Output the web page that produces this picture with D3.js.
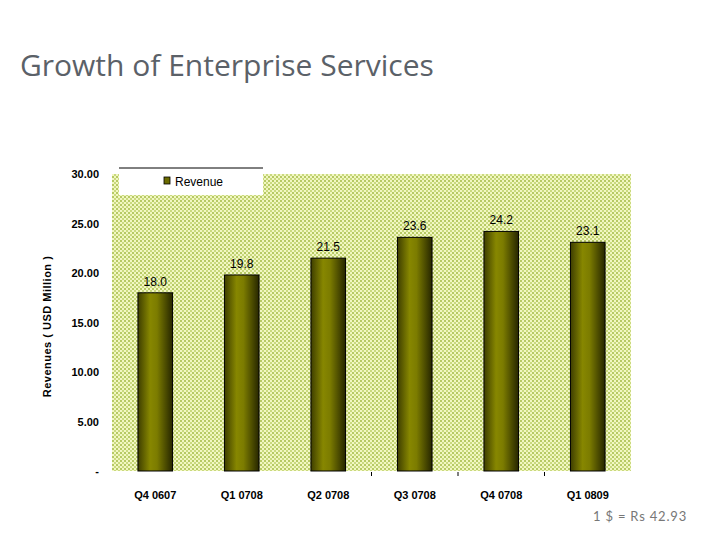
<!DOCTYPE html>
<html>
<head>
<meta charset="utf-8">
<script src="https://cdn.jsdelivr.net/npm/d3@7"></script>
<style>
  body { margin: 0; background: #fff; }
  svg { display: block; }
</style>
</head>
<body>
<div class="chart"></div>
<script>
// quarterly revenue, USD million
var quarters = ["Q4 0607", "Q1 0708", "Q2 0708", "Q3 0708", "Q4 0708", "Q1 0809"];
var revenue = [18.0, 19.8, 21.5, 23.6, 24.2, 23.1];
var yTicks = [0, 5, 10, 15, 20, 25, 30];
var seriesName = "Revenue";

var width = 720, height = 540;
var plotLeft = 112, plotRight = 631, plotTop = 174, plotBottom = 471;

var svg = d3.select(".chart").append("svg")
    .attr("width", width)
    .attr("height", height);

/* patterned plot background + bar gradient */
var defs = svg.append("defs");
var pat = defs.append("pattern")
    .attr("id", "bgpat")
    .attr("width", 4).attr("height", 4)
    .attr("patternUnits", "userSpaceOnUse");
pat.append("rect").attr("width", 4).attr("height", 4).attr("fill", "#f2f7c2");
pat.append("rect").attr("x", 0).attr("y", 0).attr("width", 2).attr("height", 2).attr("fill", "#b6c964");
pat.append("rect").attr("x", 2).attr("y", 2).attr("width", 2).attr("height", 2).attr("fill", "#c9d97e");

var grad = defs.append("linearGradient")
    .attr("id", "bargrad")
    .attr("x1", "0%").attr("x2", "100%").attr("y1", "0%").attr("y2", "0%");
grad.append("stop").attr("offset", "0%").attr("stop-color", "#3e3e00");
grad.append("stop").attr("offset", "35%").attr("stop-color", "#878700");
grad.append("stop").attr("offset", "55%").attr("stop-color", "#7c7c00");
grad.append("stop").attr("offset", "100%").attr("stop-color", "#262600");

var x = d3.scaleBand()
    .domain(quarters)
    .range([plotLeft, plotRight])
    .paddingInner(0.6)
    .paddingOuter(0.3);

var y = d3.scaleLinear()
    .domain([0, 30])
    .range([plotBottom, plotTop]);

svg.append("rect")
    .attr("x", plotLeft).attr("y", plotTop)
    .attr("width", plotRight - plotLeft).attr("height", plotBottom - plotTop)
    .attr("fill", "url(#bgpat)");

/* y axis labels, no line */
var yAxis = d3.axisLeft(y)
    .tickValues(yTicks)
    .tickSize(0)
    .tickPadding(0)
    .tickFormat(function(d) { return d === 0 ? "-" : d.toFixed(2); });

svg.append("g")
    .attr("transform", "translate(99,0)")
    .call(yAxis)
    .call(function(g) { g.select(".domain").remove(); })
    .selectAll("text")
      .attr("font-family", "Liberation Sans, Arial, sans-serif")
      .attr("font-size", 11)
      .attr("font-weight", "bold")
      .attr("fill", "#000");

/* x axis labels */
var xAxis = d3.axisBottom(x).tickSize(0).tickPadding(0);
svg.append("g")
    .attr("transform", "translate(0," + (plotBottom + 20) + ")")
    .call(xAxis)
    .call(function(g) { g.select(".domain").remove(); })
    .selectAll("text")
      .attr("font-family", "Liberation Sans, Arial, sans-serif")
      .attr("font-size", 11)
      .attr("font-weight", "bold")
      .attr("fill", "#000");

/* small ticks at category boundaries */
var step = x.step();
svg.selectAll(".btick")
    .data(quarters.slice(3))
    .enter().append("line")
      .attr("x1", function(d) { return x(d) - step * x.paddingInner() / 2; })
      .attr("x2", function(d) { return x(d) - step * x.paddingInner() / 2; })
      .attr("y1", plotBottom + 1).attr("y2", plotBottom + 5)
      .attr("stroke", "#000").attr("stroke-width", 1);

/* bars */
svg.selectAll(".bar")
    .data(revenue)
    .enter().append("rect")
      .attr("class", "bar")
      .attr("x", function(d, i) { return x(quarters[i]); })
      .attr("y", function(d) { return y(d); })
      .attr("width", x.bandwidth())
      .attr("height", function(d) { return plotBottom - y(d); })
      .attr("fill", "url(#bargrad)")
      .attr("stroke", "#000")
      .attr("stroke-width", 1);

svg.selectAll(".val")
    .data(revenue)
    .enter().append("text")
      .attr("x", function(d, i) { return x(quarters[i]) + x.bandwidth() / 2; })
      .attr("y", function(d) { return y(d) - 7; })
      .attr("text-anchor", "middle")
      .attr("font-family", "Liberation Sans, Arial, sans-serif")
      .attr("font-size", 12)
      .attr("fill", "#000")
      .text(function(d) { return d.toFixed(1); });

/* legend */
var lg = svg.append("g").attr("transform", "translate(119,168)");
lg.append("rect").attr("width", 144).attr("height", 27).attr("fill", "#fff");
lg.append("line").attr("x1", 0).attr("x2", 144).attr("y1", 0).attr("y2", 0)
    .attr("stroke", "#000").attr("stroke-width", 1);
lg.append("rect").attr("x", 45).attr("y", 9).attr("width", 6).attr("height", 7)
    .attr("fill", "#6b6b00").attr("stroke", "#000").attr("stroke-width", 0.8);
lg.append("text").attr("x", 56).attr("y", 18)
    .attr("font-family", "Liberation Sans, Arial, sans-serif")
    .attr("font-size", 12)
    .attr("fill", "#000")
    .text(seriesName);

/* y title */
svg.append("text")
    .attr("transform", "translate(51," + ((plotTop + plotBottom) / 2 + 4) + ") rotate(-90)")
    .attr("text-anchor", "middle")
    .attr("font-family", "Liberation Sans, Arial, sans-serif")
    .attr("font-size", 11)
    .attr("font-weight", "bold")
    .attr("letter-spacing", 0.5)
    .attr("fill", "#000")
    .text("Revenues ( USD Million )");

/* title + footnote */
svg.append("text")
    .attr("x", 20).attr("y", 76)
    .attr("font-family", "Open Sans, sans-serif")
    .attr("font-size", 30)
    .attr("fill", "#5b6168")
    .text("Growth of Enterprise Services");

svg.append("text")
    .attr("x", 687).attr("y", 521)
    .attr("text-anchor", "end")
    .attr("font-family", "Lato, sans-serif")
    .attr("font-size", 13)
    .attr("letter-spacing", 0.8)
    .attr("fill", "#777")
    .text("1 $ = Rs 42.93");
</script>
</body>
</html>
